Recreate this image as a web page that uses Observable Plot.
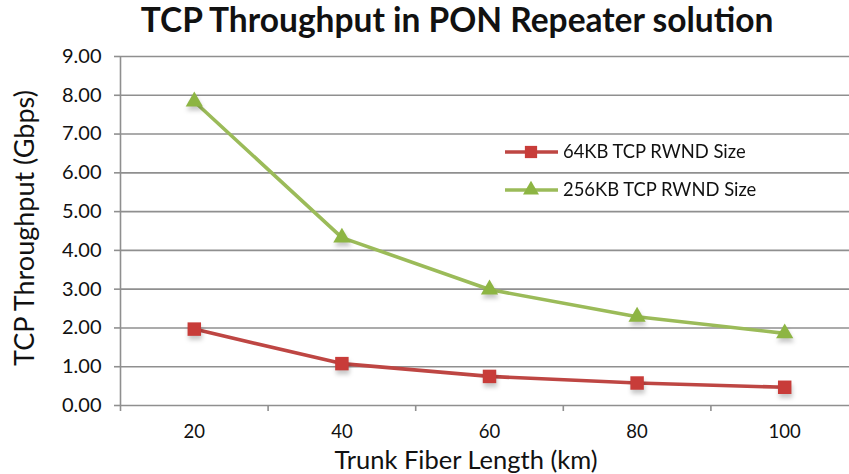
<!DOCTYPE html>
<html>
<head>
<meta charset="utf-8">
<script src="https://cdn.jsdelivr.net/npm/d3@7"></script>
<script src="https://cdn.jsdelivr.net/npm/@observablehq/plot@0.6"></script>
<style>
  html, body { margin: 0; padding: 0; background: #fff; }
  #chart { width: 849px; height: 474px; }
</style>
</head>
<body>
<div id="chart"></div>
<script>
const distances = [20, 40, 60, 80, 100];
const rwnd64 = [1.97, 1.08, 0.75, 0.58, 0.47];
const rwnd256 = [7.84, 4.33, 2.99, 2.29, 1.86];
const seriesNames = ["64KB TCP RWND Size", "256KB TCP RWND Size"];
const yTicks = [0, 1, 2, 3, 4, 5, 6, 7, 8, 9];
const xBoundaries = [10, 30, 50, 70, 90];
const titleText = "TCP Throughput in PON Repeater solution";
const xTitle = "Trunk Fiber Length (km)";
const yTitle = "TCP Throughput (Gbps)";

const colors = { line64: "#BE4643", mark64: "#C83C39", line256: "#9BBB59", mark256: "#8DB543" };

const d64 = distances.map((d, i) => ({ d, v: rwnd64[i] }));
const d256 = distances.map((d, i) => ({ d, v: rwnd256[i] }));

const FONT = "Lato, 'Open Sans', sans-serif";
const grid = "#8f8f8f";

const chart = Plot.plot({
  width: 849,
  height: 474,
  marginLeft: 120,
  marginRight: 0,
  marginTop: 56,
  marginBottom: 69,
  style: { fontFamily: FONT, background: "#fff", overflow: "visible" },
  x: { type: "linear", domain: [10, 110], range: [120, 858], axis: null },
  y: { domain: [0, 9], axis: null },
  marks: [
    Plot.ruleY(yTicks.slice(1), { stroke: grid, strokeWidth: 1.6 }),
    Plot.axisY(yTicks, { anchor: "left", label: null, tickSize: 6, stroke: grid, strokeWidth: 1.6, tickPadding: 13, tickFormat: d => d.toFixed(2), fontSize: 20, fill: "#111" }),
    Plot.ruleY([0], { stroke: grid, strokeWidth: 1.6 }),
    Plot.ruleX([10], { y1: 0, y2: 9, stroke: grid, strokeWidth: 1.6 }),
    Plot.axisX(xBoundaries, { anchor: "bottom", label: null, tickSize: 6, stroke: grid, strokeWidth: 1.6, tickFormat: () => "" }),
    Plot.axisX(distances, { anchor: "bottom", label: null, tickSize: 0, tickPadding: 19, fontSize: 18.5, fill: "#111" }),
    Plot.line(d256, { x: "d", y: "v", stroke: colors.line256, strokeWidth: 3.6 }),
    Plot.line(d64, { x: "d", y: "v", stroke: colors.line64, strokeWidth: 3.6 }),
    Plot.dot(d256, { x: "d", y: "v", symbol: "triangle", r: 6.4, fill: "#000", fillOpacity: 0.22, dy: 4, dx: 1, className: "shadow" }),
    Plot.dot(d64, { x: "d", y: "v", symbol: "square", r: 7.6, fill: "#000", fillOpacity: 0.22, dy: 4, dx: 1, className: "shadow" }),
    Plot.dot(d256, { x: "d", y: "v", symbol: "triangle", r: 6.4, fill: colors.mark256, stroke: "none" }),
    Plot.dot(d64, { x: "d", y: "v", symbol: "square", r: 7.6, fill: colors.mark64, stroke: "none" }),
    Plot.text([titleText], { frameAnchor: "top", dy: -35, fontSize: 33.5, fontWeight: "bold", fill: "#111", lineAnchor: "middle", textAnchor: "middle", dx: -28 }),
    Plot.text([xTitle], { frameAnchor: "bottom", dy: 55, fontSize: 25.5, fill: "#111", lineAnchor: "middle", textAnchor: "middle", dx: -19 }),
    Plot.text([yTitle], { frameAnchor: "left", dx: -95, rotate: -90, fontSize: 27, fill: "#111", lineAnchor: "middle", textAnchor: "middle", dy: -3 })
  ]
});

document.getElementById("chart").appendChild(chart);

const svg = d3.select(chart);
svg.insert("defs", ":first-child").html('<filter id="blur" x="-50%" y="-50%" width="200%" height="200%"><feGaussianBlur stdDeviation="2"/></filter>');
svg.selectAll("g.shadow").attr("filter", "url(#blur)");

const legend = svg.append("g").attr("font-family", FONT).attr("font-size", 18.4).attr("fill", "#111").attr("text-anchor", "start");
const legendItems = [
  { name: seriesNames[0], line: colors.line64, mark: colors.mark64, sym: d3.symbolSquare, size: 150 },
  { name: seriesNames[1], line: colors.line256, mark: colors.mark256, sym: d3.symbolTriangle, size: 110 }
];
legendItems.forEach((it, i) => {
  const y = 152 + i * 38;
  const g = legend.append("g").attr("transform", `translate(0,${y})`);
  g.append("line").attr("x1", 505).attr("x2", 558).attr("y1", 0).attr("y2", 0).attr("stroke", it.line).attr("stroke-width", 3.6);
  g.append("path").attr("d", d3.symbol(it.sym, it.size)()).attr("transform", "translate(531,0)").attr("fill", it.mark);
  g.append("text").attr("x", 563).attr("y", 0).attr("dy", "0.35em").attr("text-anchor", "start").text(it.name);
});
</script>
</body>
</html>
